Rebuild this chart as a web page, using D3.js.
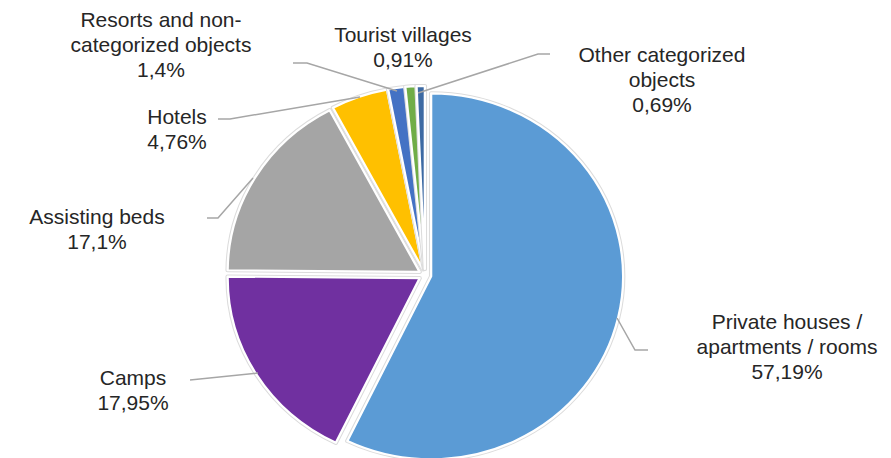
<!DOCTYPE html>
<html>
<head>
<meta charset="utf-8">
<script src="https://cdn.jsdelivr.net/npm/d3@7/dist/d3.min.js"></script>
<style>
  html, body { margin: 0; padding: 0; background: #fff; }
  svg { display: block; }
  text { font-family: "Liberation Sans", Arial, sans-serif; fill: #262626; }
</style>
</head>
<body>
<svg id="chart" width="891" height="458"></svg>
<script>
// Accommodation capacity by type of object (share, %)
const categories = [
  "Private houses / apartments / rooms",
  "Camps",
  "Assisting beds",
  "Hotels",
  "Resorts and non-categorized objects",
  "Tourist villages",
  "Other categorized objects"
];
const shares = [57.19, 17.95, 17.1, 4.76, 1.4, 0.91, 0.69];
const labelLines = [
  ["Private houses /", "apartments / rooms"],
  ["Camps"],
  ["Assisting beds"],
  ["Hotels"],
  ["Resorts and non-", "categorized objects"],
  ["Tourist villages"],
  ["Other categorized", "objects"]
];
const colors = ["#5B9BD5", "#7030A0", "#A5A5A5", "#FFC000", "#4472C4", "#70AD47", "#3D6AA3"];

// Label placement (centre x, first baseline y) and leader polylines
const labelPos = [
  [787, 329], [133, 385], [97, 224], [177, 124], [161, 27], [403, 42], [662, 62]
];
const leaders = [
  [[617, 318], [635, 350], [648, 350]],
  [[190, 380], [258, 373]],
  [[207, 218], [218, 218], [253, 178]],
  [[218, 119], [230, 119], [360, 97]],
  [[293, 63], [307, 63], [397, 91]],
  null,
  [[418, 93], [538, 54], [550, 54]]
];

const W = 891, H = 458;
const cx = 425, cy = 275, r = 183, sx = 192 / 183, explode = 6, lineH = 25;

const svg = d3.select("#chart");

const pie = d3.pie().sort(null).value(d => d)(shares);
const arc = d3.arc().innerRadius(0).outerRadius(r);

const g = svg.append("g")
  .attr("transform", `translate(${cx},${cy}) scale(${sx},1)`);

const slices = g.selectAll("g.slice")
  .data(pie)
  .join("g")
  .attr("class", "slice")
  .attr("transform", d => {
    const a = (d.startAngle + d.endAngle) / 2;
    return `translate(${Math.sin(a) * explode},${-Math.cos(a) * explode})`;
  });

// faint grey halo under the white border
slices.append("path")
  .attr("d", arc)
  .attr("fill", "none")
  .attr("stroke", "#dcdcdc")
  .attr("stroke-width", 4.2)
  .attr("stroke-linejoin", "round");

slices.append("path")
  .attr("d", arc)
  .attr("fill", (d, i) => colors[i])
  .attr("stroke", "#ffffff")
  .attr("stroke-width", 2.2)
  .attr("stroke-linejoin", "round");

// leader lines
const line = d3.line();
svg.append("g")
  .selectAll("path")
  .data(leaders.filter(l => l))
  .join("path")
  .attr("d", line)
  .attr("fill", "none")
  .attr("stroke", "#A6A6A6")
  .attr("stroke-width", 1.5);

// data labels: category name lines followed by the share
const fmt = v => String(v).replace(".", ",") + "%";
const labels = svg.append("g")
  .selectAll("text")
  .data(categories)
  .join("text")
  .attr("text-anchor", "middle")
  .attr("font-size", 21)
  .attr("x", (d, i) => labelPos[i][0])
  .attr("y", (d, i) => labelPos[i][1]);

labels.each(function (d, i) {
  const t = d3.select(this);
  labelLines[i].concat([fmt(shares[i])]).forEach((s, k) => {
    t.append("tspan")
      .attr("x", labelPos[i][0])
      .attr("dy", k === 0 ? 0 : lineH)
      .text(s);
  });
});
</script>
</body>
</html>
